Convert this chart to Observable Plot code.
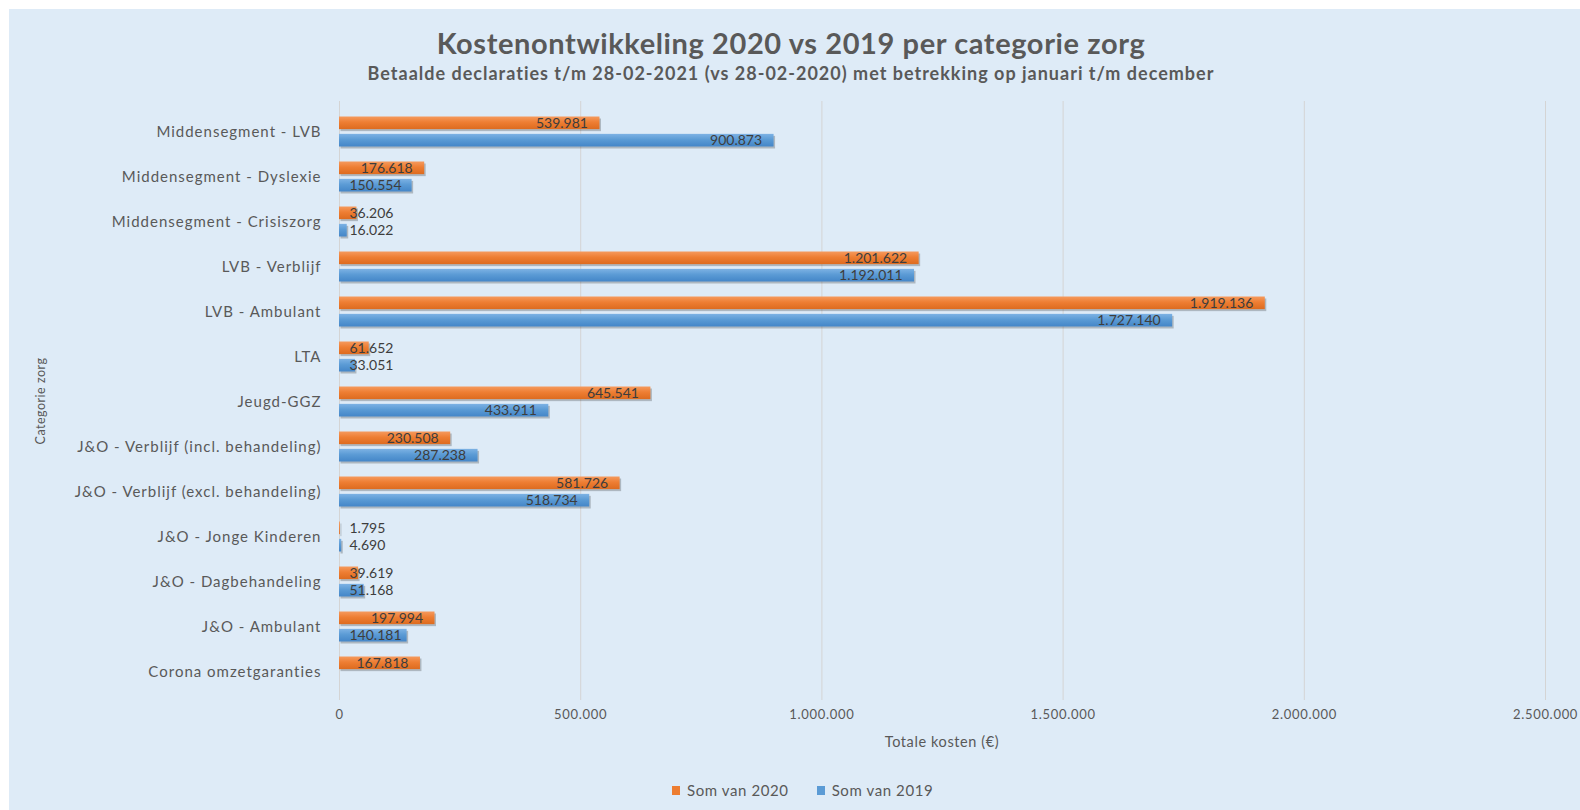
<!DOCTYPE html>
<html>
<head>
<meta charset="utf-8">
<script src="https://cdn.jsdelivr.net/npm/d3@7"></script>
<script src="https://cdn.jsdelivr.net/npm/@observablehq/plot@0.6"></script>
<style>
  html, body { margin: 0; padding: 0; background: #ffffff; width: 1580px; height: 810px; overflow: hidden; font-family: Lato, "Open Sans", sans-serif; }
  #panel { position: absolute; left: 9px; top: 9px; width: 1571px; height: 801px; background: #DEEBF7; }
  .title { position: absolute; left: 0; width: 1582px; text-align: center; color: #595959; font-weight: bold; white-space: nowrap; }
  #t1 { top: 26px; font-size: 29px; line-height: 34px; letter-spacing: 0.6px; }
  #t2 { top: 62px; font-size: 18px; line-height: 22px; letter-spacing: 1px; }
  #chart { position: absolute; left: 0; top: 90px; }
  #xtitle { position: absolute; left: 834px; width: 216px; top: 733px; text-align: center; font-size: 14.5px; line-height: 18px; color: #595959; letter-spacing: 0.6px; }
  #ytitle { position: absolute; left: 40px; top: 401px; transform: translate(-50%, -50%) rotate(-90deg); font-size: 12.5px; color: #595959; white-space: nowrap; letter-spacing: 0.5px; }
  #legend { position: absolute; left: 672px; top: 781px; display: flex; align-items: center; font-size: 15px; line-height: 18px; color: #595959; white-space: nowrap; letter-spacing: 0.6px; }
  #legend .sw { width: 8px; height: 9px; margin-right: 7px; }
  #legend .item { display: flex; align-items: center; margin-right: 28px; }
  #chart g[aria-label^="y-axis"] text { font-size: 15px; letter-spacing: 1px; }
  #chart g[aria-label^="x-axis"] text { font-size: 13px; letter-spacing: 0.7px; }
</style>
</head>
<body>
<div id="panel"></div>
<div class="title" id="t1">Kostenontwikkeling 2020 vs 2019 per categorie zorg</div>
<div class="title" id="t2">Betaalde declaraties t/m 28-02-2021 (vs 28-02-2020) met betrekking op januari t/m december</div>
<div id="chart"></div>
<div id="xtitle">Totale kosten (€)</div>
<div id="ytitle">Categorie zorg</div>
<div id="legend"></div>
<script>
const categories = [
  "Middensegment - LVB",
  "Middensegment - Dyslexie",
  "Middensegment - Crisiszorg",
  "LVB - Verblijf",
  "LVB - Ambulant",
  "LTA",
  "Jeugd-GGZ",
  "J&O - Verblijf (incl. behandeling)",
  "J&O - Verblijf (excl. behandeling)",
  "J&O - Jonge Kinderen",
  "J&O - Dagbehandeling",
  "J&O - Ambulant",
  "Corona omzetgaranties"
];
const values2020 = [539981, 176618, 36206, 1201622, 1919136, 61652, 645541, 230508, 581726, 1795, 39619, 197994, 167818];
const values2019 = [900873, 150554, 16022, 1192011, 1727140, 33051, 433911, 287238, 518734, 4690, 51168, 140181, null];
const seriesNames = ["Som van 2020", "Som van 2019"];
const seriesColors = ["#ED7D31", "#5B9BD5"];
const xTicks = [0, 500000, 1000000, 1500000, 2000000, 2500000];

const nl = d3.formatLocale({decimal: ",", thousands: ".", grouping: [3], currency: ["€", ""]});
const fmt = nl.format(",d");

const r2020 = categories.map((c, i) => ({cat: c, series: seriesNames[0], value: values2020[i]})).filter(d => d.value != null);
const r2019 = categories.map((c, i) => ({cat: c, series: seriesNames[1], value: values2019[i]})).filter(d => d.value != null);

// labels that fit inside the bar are right-aligned at the bar end; others start at the axis
const fits = d => d.value > 157000;

const OFF = 8.65; // half-distance between the two bar centres in a group
function seriesMarks(rows, grad, top, bottom, dy) {
  return [
    Plot.barX(rows, {x: "value", y: "cat", insetTop: top, insetBottom: bottom, fill: "#000", fillOpacity: 0.22, dx: 1.5, dy: 2}),
    Plot.barX(rows, {x: "value", y: "cat", insetTop: top, insetBottom: bottom, fill: grad}),
    Plot.text(rows.filter(fits), {x: "value", y: "cat", text: d => fmt(d.value), textAnchor: "end", dx: -12, dy, fill: "#3d3d3d", fontSize: 14, fontFamily: "Lato"}),
    Plot.text(rows.filter(d => !fits(d)), {x: d => 0, y: "cat", text: d => fmt(d.value), textAnchor: "start", dx: 10, dy, fill: "#3d3d3d", fontSize: 14, fontFamily: "Lato"})
  ];
}

const plot = Plot.plot({
  width: 1580,
  height: 670,
  marginLeft: 339,
  marginRight: 35,
  marginTop: 11,
  marginBottom: 60,
  style: {background: "transparent", fontFamily: "Lato", color: "#595959", overflow: "visible"},
  x: {domain: [0, 2500000], ticks: xTicks, tickFormat: fmt, tickSize: 0, tickPadding: 9, label: null},
  y: {domain: categories, padding: 0, insetTop: 3, insetBottom: 2, tickSize: 0, tickPadding: 18, label: null},
  marks: [
    Plot.ruleX(xTicks, {stroke: "#D4D4D4", strokeWidth: 1}),
    ...seriesMarks(r2020, "url(#gOrange)", 7.5, 24.85, -OFF),
    ...seriesMarks(r2019, "url(#gBlue)", 24.85, 7.5, OFF)
  ]
});

plot.insertAdjacentHTML("afterbegin", `
<defs>
  <linearGradient id="gOrange" x1="0" y1="0" x2="0" y2="1">
    <stop offset="0" stop-color="#F59A5E"/>
    <stop offset="0.45" stop-color="#EE7E33"/>
    <stop offset="1" stop-color="#DD6B1F"/>
  </linearGradient>
  <linearGradient id="gBlue" x1="0" y1="0" x2="0" y2="1">
    <stop offset="0" stop-color="#7DB2E4"/>
    <stop offset="0.45" stop-color="#5B9BD5"/>
    <stop offset="1" stop-color="#4486C8"/>
  </linearGradient>
</defs>`);
document.getElementById("chart").appendChild(plot);

const legend = d3.select("#legend");
seriesNames.forEach((name, i) => {
  const item = legend.append("div").attr("class", "item");
  item.append("div").attr("class", "sw").style("background", seriesColors[i]);
  item.append("span").text(name);
});
</script>
</body>
</html>
